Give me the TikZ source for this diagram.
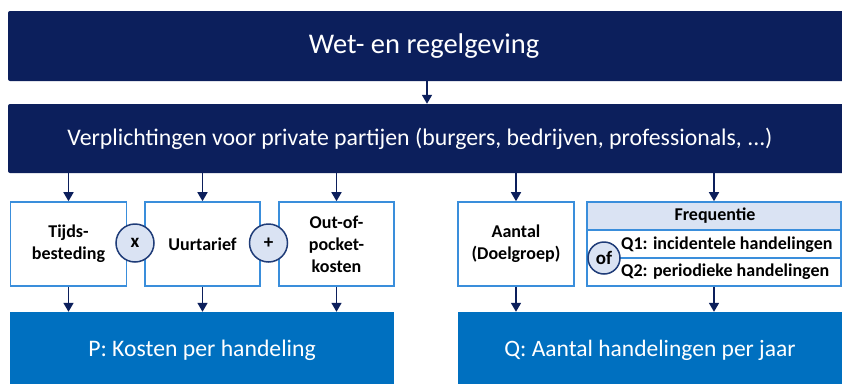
\documentclass[tikz,border=0pt]{standalone}
\usepackage{fontspec}
\setmainfont{Carlito}
\usetikzlibrary{arrows.meta}
\definecolor{navy}{HTML}{0C1F5C}
\definecolor{midblue}{HTML}{0070C0}
\definecolor{edgeblue}{HTML}{3A8EDB}
\definecolor{paleblue}{HTML}{DAE3F3}
\definecolor{circedge}{HTML}{1F3C78}
\tikzset{
  bigbox/.style={fill=navy, draw=none, rounded corners=2pt, inner sep=0pt},
  resbox/.style={fill=midblue, draw=none, inner sep=0pt},
  factor/.style={draw=edgeblue, line width=1.6pt, fill=white, font=\bfseries\fontsize{18}{22}\selectfont, align=center, inner sep=0pt, minimum height=84pt},
  rowbox/.style={draw=edgeblue, line width=1.6pt, inner sep=0pt, minimum height=28pt, minimum width=254pt},
  rowtext/.style={font=\bfseries\fontsize{18}{20}\selectfont, inner sep=0pt},
  opcirc/.style={circle, draw=circedge, line width=1.5pt, fill=paleblue, font=\bfseries\fontsize{19}{20}\selectfont, minimum size=38pt, inner sep=0pt},
  wtext/.style={text=white, inner sep=0pt},
  arr/.style={draw=navy, line width=1.6pt, -{Triangle[width=10pt,length=9pt]}}
}
\begin{document}
\begin{tikzpicture}[x=1pt,y=-1pt]
\clip (0,0) rectangle (842,383);
\fill[white] (0,0) rectangle (842,383);
% top boxes
\node[bigbox, minimum width=840pt, minimum height=70pt] (wet) at (428,46) {};
\node[wtext, font=\fontsize{28.5}{30}\selectfont] (wett) at (424,46) {Wet- en regelgeving};
\node[bigbox, minimum width=840pt, minimum height=69pt] (verp) at (428,138.5) {};
\node[wtext, font=\fontsize{23.8}{26}\selectfont] (verpt) at (420,139) {Verplichtingen voor private partijen (burgers, bedrijven, professionals, ...)};
% factor boxes
\node[factor, minimum width=116pt] (tijd) at (68.5,244) {Tijds-\\besteding};
\node[factor, minimum width=115pt] (uur) at (202.5,244) {Uurtarief};
\node[factor, minimum width=115pt] (oop) at (336.5,244) {Out-of-\\pocket-\\kosten};
\node[factor, minimum width=116pt] (aant) at (516,244) {Aantal\\(Doelgroep)};
% frequentie
\node[rowbox, fill=paleblue] (freq) at (714,216) {};
\node[rowbox, fill=white] (q1) at (714,244) {};
\node[rowbox, fill=white] (q2) at (714,272) {};
\node[rowtext] (freqt) at (715,216) {Frequentie};
\node[rowtext, anchor=west] (q1t) at (621,245) {Q1: incidentele handelingen};
\node[rowtext, anchor=west] (q2t) at (621,272) {Q2: periodieke handelingen};
% operator circles
\node[opcirc] (times) at (135,243) {x};
\node[opcirc] (plus) at (268.5,243) {+};
\node[opcirc, minimum size=32pt] (of) at (604,258) {of};
% result boxes
\node[resbox, minimum width=384pt, minimum height=82pt] (p) at (202,353) {};
\node[wtext, font=\fontsize{23.7}{26}\selectfont] (pt) at (202,350) {P: Kosten per handeling};
\node[resbox, minimum width=384pt, minimum height=82pt] (q) at (650,353) {};
\node[wtext, font=\fontsize{23.5}{26}\selectfont] (qt) at (650,350) {Q: Aantal handelingen per jaar};
% arrows
\draw[arr] (wet.south -| 427,0) -- (verp.north -| 427,0);
\draw[arr] (verp.south -| tijd) -- (tijd.north);
\draw[arr] (verp.south -| uur) -- (uur.north);
\draw[arr] (verp.south -| oop) -- (oop.north);
\draw[arr] (verp.south -| aant) -- (aant.north);
\draw[arr] (verp.south -| freq) -- (freq.north);
\draw[arr] (tijd.south) -- (p.north -| tijd);
\draw[arr] (uur.south) -- (p.north -| uur);
\draw[arr] (oop.south) -- (p.north -| oop);
\draw[arr] (aant.south) -- (q.north -| aant);
\draw[arr] (q2.south) -- (q.north -| q2);
\end{tikzpicture}
\end{document}
